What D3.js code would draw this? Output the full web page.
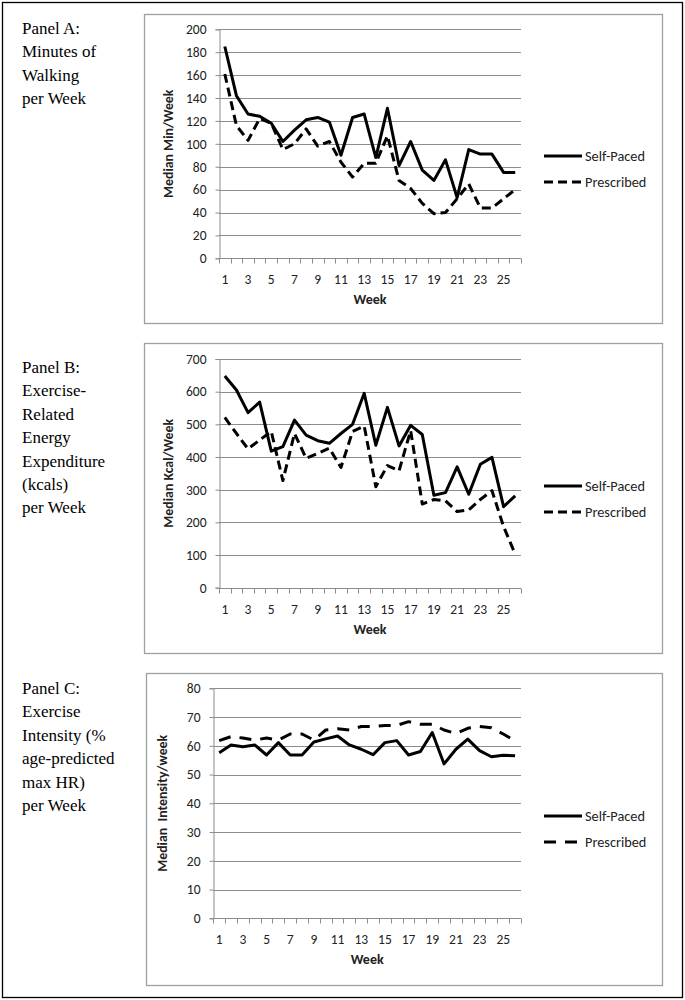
<!DOCTYPE html>
<html><head><meta charset="utf-8">
<script src="https://cdn.jsdelivr.net/npm/d3@7"></script>
<style>body{margin:0;background:#fff}</style>
</head><body>
<script>
const weeks = d3.range(1, 27);
const weekTickLabels = [1,3,5,7,9,11,13,15,17,19,21,23,25];
const seriesNames = ["Self-Paced", "Prescribed"];

const minutesSelfPaced = [185,142,126,124,118,102,112,121,123,119,90,123,126,88,131,81,102,77,68,86,53,95,91,91,75,75];
const minutesPrescribed = [161,116,103,122,118,95,100,113,98,102,84,71,83,83,107,68,61,48,39,40,52,65,44,44,52,60];
const kcalSelfPaced = [648,605,536,568,418,432,513,467,450,442,472,500,595,436,552,434,497,469,283,291,370,286,378,399,248,281];
const kcalPrescribed = [521,472,425,452,478,328,472,396,411,427,368,478,495,309,374,358,481,256,270,266,233,238,270,297,187,103];
const intensitySelfPaced = [57.6,60.3,59.7,60.3,56.8,61.1,56.8,56.8,61.3,62.4,63.4,60.3,58.8,56.9,61.1,61.8,56.8,58,64.6,53.7,58.8,62.3,58.3,56.2,56.7,56.5];
const intensityPrescribed = [61.8,63.2,62.7,62,62.7,62,64.1,64.1,62,65.5,65.9,65.5,66.7,66.7,67.1,67.1,68.4,67.5,67.5,65.5,64.3,66.1,66.7,66.3,64.1,61.7];

const yTicksA = [0,20,40,60,80,100,120,140,160,180,200];
const yTicksB = [0,100,200,300,400,500,600,700];
const yTicksC = [0,10,20,30,40,50,60,70,80];

const panelTitleA = ["Panel A:", "Minutes of", "Walking", "per Week"];
const panelTitleB = ["Panel B:", "Exercise-", "Related", "Energy", "Expenditure", "(kcals)", "per Week"];
const panelTitleC = ["Panel C:", "Exercise", "Intensity (%", "age-predicted", "max HR)", "per Week"];

const W = 685, H = 1000;
const svg = d3.select("body").append("svg").attr("width", W).attr("height", H);
const sansFont = "Carlito, Lato, 'Open Sans', sans-serif";
const serifFont = "'Liberation Serif', 'DejaVu Serif', serif";

svg.append("rect").attr("x", 2.5).attr("y", 2.5).attr("width", 680).attr("height", 995)
  .attr("fill", "none").attr("stroke", "#000").attr("stroke-width", 1.3);

const panels = [
  {title: panelTitleA, titleY: 34, box: [144, 14, 662, 323], plot: [219, 29.3, 521, 258.3], ticks: yTicksA, max: 200,
   yLabel: "Median Min/Week", self: minutesSelfPaced, pres: minutesPrescribed, dash: "9,5", legendY: 156},
  {title: panelTitleB, titleY: 373, box: [144, 343, 662, 653], plot: [219, 359, 521, 587.7], ticks: yTicksB, max: 700,
   yLabel: "Median Kcal/Week", self: kcalSelfPaced, pres: kcalPrescribed, dash: "9,5", legendY: 486},
  {title: panelTitleC, titleY: 694, box: [146, 673, 662, 985], plot: [213.3, 688.3, 521, 918.3], ticks: yTicksC, max: 80,
   yLabel: "Median  Intensity/week", self: intensitySelfPaced, pres: intensityPrescribed, dash: "12,9", legendY: 816}
];

panels.forEach(p => {
  const t = svg.append("g");
  p.title.forEach((line, i) => {
    t.append("text").attr("x", 22).attr("y", p.titleY + i * 23.4)
      .attr("font-family", serifFont).attr("font-size", 17).attr("fill", "#000").text(line);
  });
  const [bx0, by0, bx1, by1] = p.box;
  svg.append("rect").attr("x", bx0 + 0.5).attr("y", by0 + 0.5).attr("width", bx1 - bx0).attr("height", by1 - by0)
    .attr("fill", "#fff").attr("stroke", "#a0a0a0").attr("stroke-width", 1.3);

  const [px0, py0, px1, py1] = p.plot;
  const x = d3.scaleBand().domain(weeks).range([px0, px1]);
  const y = d3.scaleLinear().domain([0, p.max]).range([py1, py0]);
  const g = svg.append("g");

  g.selectAll(".grid").data(p.ticks.filter(v => v > 0)).join("line")
    .attr("x1", px0).attr("x2", px1).attr("y1", d => Math.round(y(d)) + 0.5).attr("y2", d => Math.round(y(d)) + 0.5)
    .attr("stroke", "#8c8c8c").attr("stroke-width", 1);

  const yAxis = g.append("g").attr("transform", `translate(${Math.round(px0) + 0.5},0)`)
    .call(d3.axisLeft(y).tickValues(p.ticks).tickSize(4).tickPadding(9));
  yAxis.select(".domain").attr("stroke", "#8c8c8c");
  yAxis.selectAll(".tick line").attr("stroke", "#8c8c8c");
  yAxis.selectAll("text").attr("font-family", sansFont).attr("font-size", 13.5).attr("fill", "#222");

  const xg = g.append("g").attr("transform", `translate(0,${Math.round(py1) + 0.5})`);
  xg.append("line").attr("x1", px0).attr("x2", px1).attr("stroke", "#8c8c8c");
  const bounds = weeks.map(w => x(w)).concat([px1]);
  xg.selectAll(".tk").data(bounds).join("line")
    .attr("x1", d => Math.round(d) + 0.5).attr("x2", d => Math.round(d) + 0.5).attr("y1", 0).attr("y2", 5)
    .attr("stroke", "#8c8c8c");
  xg.selectAll(".lbl").data(weekTickLabels).join("text")
    .attr("x", d => x(d) + x.bandwidth() / 2).attr("y", 25).attr("text-anchor", "middle")
    .attr("font-family", sansFont).attr("font-size", 13.5).attr("fill", "#222").text(d => d);
  xg.append("text").attr("x", (px0 + px1) / 2).attr("y", 45).attr("text-anchor", "middle")
    .attr("font-family", sansFont).attr("font-size", 14).attr("font-weight", "bold").attr("fill", "#222").text("Week");

  g.append("text").attr("transform", `translate(${px0 - 46},${(py0 + py1) / 2}) rotate(-90)`)
    .attr("text-anchor", "middle").attr("font-family", sansFont).attr("font-size", 13.8)
    .attr("font-weight", "bold").attr("fill", "#222").attr("xml:space", "preserve").text(p.yLabel);

  const line = d3.line().x((d, i) => x(weeks[i]) + x.bandwidth() / 2).y(d => y(d));
  g.append("path").datum(p.pres).attr("d", line).attr("fill", "none").attr("stroke", "#000")
    .attr("stroke-width", 3).attr("stroke-dasharray", p.dash).attr("stroke-linejoin", "round");
  g.append("path").datum(p.self).attr("d", line).attr("fill", "none").attr("stroke", "#000")
    .attr("stroke-width", 3).attr("stroke-linejoin", "round");

  seriesNames.forEach((name, i) => {
    const ly = p.legendY + i * 26;
    g.append("line").attr("x1", 544).attr("x2", 582).attr("y1", ly).attr("y2", ly)
      .attr("stroke", "#000").attr("stroke-width", 3)
      .attr("stroke-dasharray", i === 1 ? p.dash : null);
    g.append("text").attr("x", 585).attr("y", ly + 5).attr("font-family", sansFont)
      .attr("font-size", 14.3).attr("fill", "#222").text(name);
  });
});
</script>
</body></html>
